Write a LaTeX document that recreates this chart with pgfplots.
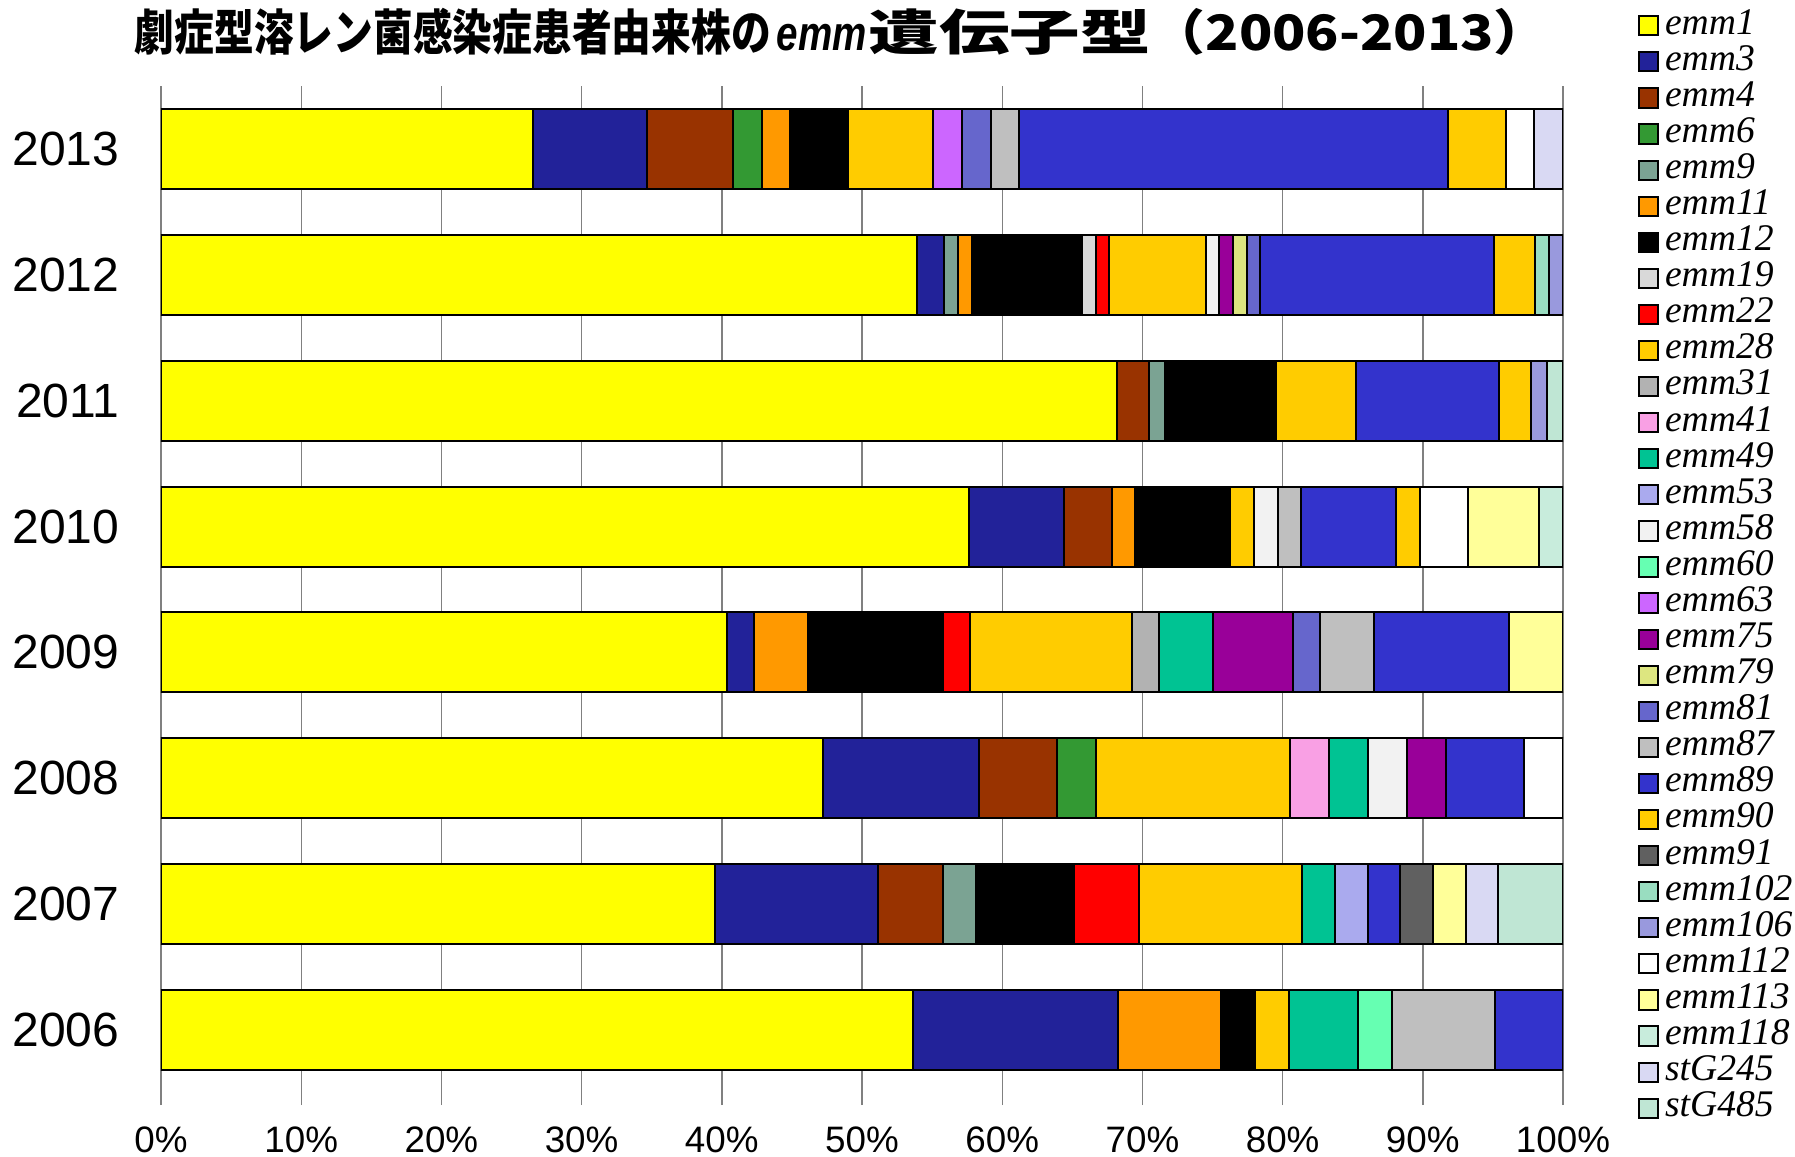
\documentclass[border=0pt]{standalone}
\usepackage{graphicx}
\usepackage{pgfplots}
\pgfplotsset{compat=1.18}
\usepackage{pgfplotstable}
\usepackage{fontspec}
\setmainfont{Liberation Serif}
\newfontfamily\arialf{Liberation Sans}
\newfontfamily\cjk{Noto Sans CJK JP}

\definecolor{c1}{HTML}{FFFF00}
\definecolor{c3}{HTML}{222299}
\definecolor{c4}{HTML}{993300}
\definecolor{c6}{HTML}{339933}
\definecolor{c9}{HTML}{7BA393}
\definecolor{c11}{HTML}{FF9900}
\definecolor{c12}{HTML}{000000}
\definecolor{c19}{HTML}{D9D9D9}
\definecolor{c22}{HTML}{FF0000}
\definecolor{c28}{HTML}{FFCC00}
\definecolor{c31}{HTML}{B2B2B2}
\definecolor{c41}{HTML}{F9A0E4}
\definecolor{c49}{HTML}{00C393}
\definecolor{c53}{HTML}{AAAAEE}
\definecolor{c58}{HTML}{F2F2F2}
\definecolor{c60}{HTML}{66FFB2}
\definecolor{c63}{HTML}{CC66FF}
\definecolor{c75}{HTML}{990099}
\definecolor{c79}{HTML}{DDE680}
\definecolor{c81}{HTML}{6666CC}
\definecolor{c87}{HTML}{BFBFBF}
\definecolor{c89}{HTML}{3333CC}
\definecolor{c90}{HTML}{FFCC00}
\definecolor{c91}{HTML}{606060}
\definecolor{c102}{HTML}{99DDC0}
\definecolor{c106}{HTML}{9999DD}
\definecolor{c112}{HTML}{FFFFFF}
\definecolor{c113}{HTML}{FFFF99}
\definecolor{c118}{HTML}{C8ECDC}
\definecolor{g245}{HTML}{D9D9F3}
\definecolor{g485}{HTML}{BFE6D4}

\pgfplotstableread{
y e1 e3 e4 e6 e9 e11 e12 e19 e22 e28 e31 e41 e49 e53 e58 e60 e63 e75 e79 e81 e87 e89 e90 e91 e102 e106 e112 e113 e118 g245 g485
0 53.66 14.63 0 0 0 7.32 2.44 0 0 2.44 0 0 4.88 0 0 2.44 0 0 0 0 7.32 4.88 0 0 0 0 0 0 0 0 0
1 39.53 11.63 4.65 0 2.33 0 6.98 0 4.65 11.63 0 0 2.33 2.33 0 0 0 0 0 0 0 2.33 0 2.33 0 0 0 2.33 0 2.33 4.65
2 47.22 11.11 5.56 2.78 0 0 0 0 0 13.89 0 2.78 2.78 0 2.78 0 0 2.78 0 0 0 5.56 0 0 0 0 2.78 0 0 0 0
3 40.38 1.92 0 0 0 3.85 9.62 0 1.92 11.54 1.92 0 3.85 0 0 0 0 5.77 0 1.92 3.85 9.62 0 0 0 0 0 3.85 0 0 0
4 57.63 6.78 3.39 0 0 1.69 6.78 0 0 1.69 0 0 0 0 1.69 0 0 0 0 0 1.69 6.78 1.69 0 0 0 3.39 5.08 1.69 0 0
5 68.18 0 2.27 0 1.14 0 7.95 0 0 5.68 0 0 0 0 0 0 0 0 0 0 0 10.23 2.27 0 0 1.14 0 0 0 0 1.14
6 53.92 1.96 0 0 0.98 0.98 7.84 0.98 0.98 6.86 0 0 0 0 0.98 0 0 0.98 0.98 0.98 0 16.67 2.94 0 0.98 0.98 0 0 0 0 0
7 26.53 8.16 6.12 2.04 0 2.04 4.08 0 0 6.12 0 0 0 0 0 0 2.04 0 0 2.04 2.04 30.61 4.08 0 0 0 2.04 0 0 2.04 0
}\data

\newcommand\seg[3]{\addplot[fill=#2] table[x=#1,y=y]{\data}; \addlegendentry{#3}}

\begin{document}
\begin{tikzpicture}[x=1pt,y=1pt]
\useasboundingbox (-40.25,-15.75) rectangle (408.5,273.25);
\begin{axis}[
  at={(0,0)}, anchor=south west,
  scale only axis, width=350.5pt, height=251.75pt,
  xbar stacked, bar width=20pt,
  xmin=0, xmax=100, ymin=-0.5, ymax=7.5,
  enlargelimits=false,
  xtick={0,10,...,100},
  xticklabels={0\%,10\%,20\%,30\%,40\%,50\%,60\%,70\%,80\%,90\%,100\%},
  ytick={0,...,7},
  yticklabels={2006,2007,2008,2009,2010,2011,2012,2013},
  xmajorgrids,
  grid style={draw=black!50, line width=0.35pt},
  axis x line*=bottom,
  x axis line style={draw=none},
  axis y line*=left,
  y axis line style={draw=black!50, line width=0.35pt},
  xtick style={draw=black!50, line width=0.35pt},
  tick align=outside,
  major tick length=3pt,
  ytick style={draw=none},
  xticklabel style={font=\arialf\fontsize{9.2}{10}\selectfont, yshift=-2pt},
  yticklabel style={font=\arialf\fontsize{12}{14}\selectfont, xshift=-3.9pt},
  every axis plot/.append style={draw=black, line width=0.5pt,
    legend image code/.code={\draw[#1, draw=black, line width=0.5pt] (0pt,-2.4pt) rectangle (4.8pt,2.4pt);}},
  legend style={at={(1.0528,1.0785)}, anchor=north west, draw=none, fill=none,
    font=\itshape\fontsize{9.4}{9.4}\selectfont, inner sep=0pt, row sep=0pt,
    nodes={inner xsep=1.5pt, inner ysep=0pt, text height=6.6pt, text depth=2.42pt, anchor=west}},
  legend cell align=left,
]
\seg{e1}{c1}{emm1}
\seg{e3}{c3}{emm3}
\seg{e4}{c4}{emm4}
\seg{e6}{c6}{emm6}
\seg{e9}{c9}{emm9}
\seg{e11}{c11}{emm11}
\seg{e12}{c12}{emm12}
\seg{e19}{c19}{emm19}
\seg{e22}{c22}{emm22}
\seg{e28}{c28}{emm28}
\seg{e31}{c31}{emm31}
\seg{e41}{c41}{emm41}
\seg{e49}{c49}{emm49}
\seg{e53}{c53}{emm53}
\seg{e58}{c58}{emm58}
\seg{e60}{c60}{emm60}
\seg{e63}{c63}{emm63}
\seg{e75}{c75}{emm75}
\seg{e79}{c79}{emm79}
\seg{e81}{c81}{emm81}
\seg{e87}{c87}{emm87}
\seg{e89}{c89}{emm89}
\seg{e90}{c90}{emm90}
\seg{e91}{c91}{emm91}
\seg{e102}{c102}{emm102}
\seg{e106}{c106}{emm106}
\seg{e112}{c112}{emm112}
\seg{e113}{c113}{emm113}
\seg{e118}{c118}{emm118}
\seg{g245}{g245}{stG245}
\seg{g485}{g485}{stG485}
\end{axis}
\begin{scope}[every node/.style={anchor=base west, inner sep=0pt, font=\cjk\bfseries\fontsize{12.2}{14}\selectfont}]
\node at (-6.75,260.5) {\resizebox{159pt}{\height}{劇症型溶レン菌感染症患者由来株の}};
\node at (153.75,260.5) {\resizebox{22.5pt}{\height}{\arialf\itshape emm}};
\node at (176.75,260.5) {\resizebox{70.5pt}{\height}{遺伝子型}};
\node at (247.25,260.5) {\resizebox{99.5pt}{\height}{（2006-2013）}};
\end{scope}
\end{tikzpicture}
\end{document}
